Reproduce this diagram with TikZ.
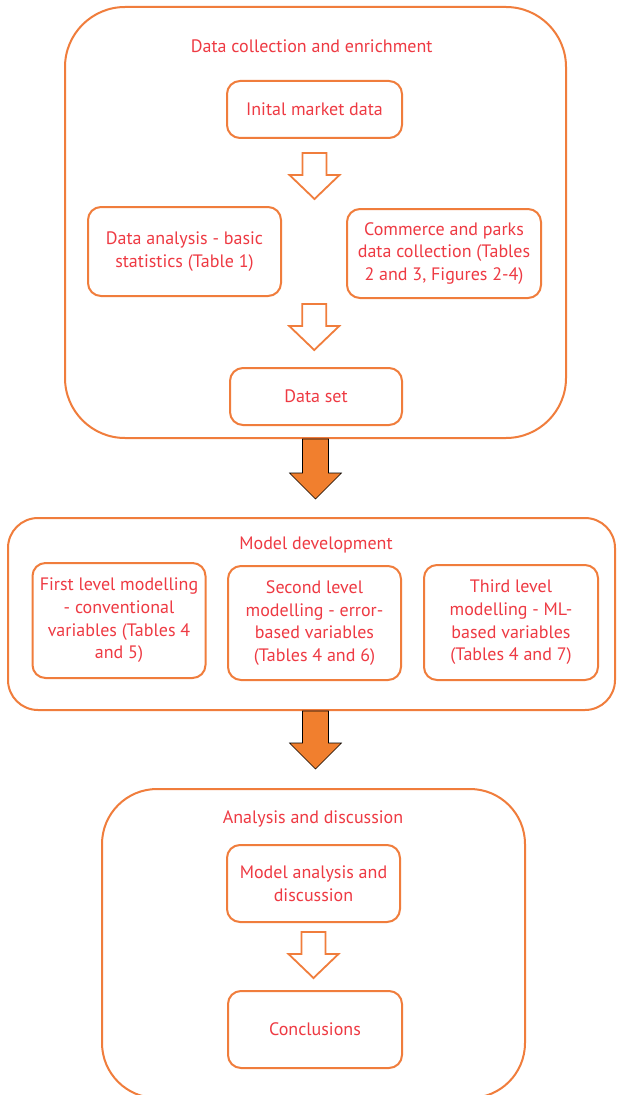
\documentclass[tikz,border=0pt]{standalone}
\usepackage{fontspec}
\setmainfont{PT Sans}
\usepackage{tikz}
\usetikzlibrary{calc}
\definecolor{korange}{HTML}{F07D3C}
\definecolor{kfill}{HTML}{F17F2E}
\definecolor{kred}{HTML}{EE3A43}
\newdimen\px \px=0.75pt
% block arrow: style, start, tip, shaft half width, head half width, head length
\newcommand{\blockarrow}[6]{%
  \draw[#1] ($(#2)+(-#4,0)$) -- ($(#2)+(#4,0)$) -- ($(#3)+(#4,-#6)$) -- ($(#3)+(#5,-#6)$)
    -- (#3) -- ($(#3)+(-#5,-#6)$) -- ($(#3)+(-#4,-#6)$) -- cycle;}
\tikzset{
  stage/.style={draw=korange, line width=2\px},
  stepbox/.style={draw=korange, line width=2\px, rounded corners=13\px, text=kred,
    align=center, font=\fontsize{13.5}{17}\selectfont, inner sep=0pt},
  stagetitle/.style={text=kred, font=\fontsize{13.5}{17}\selectfont, inner sep=0pt},
  hollowarr/.style={draw=korange, fill=white, line width=1.8\px},
  solidarr/.style={fill=kfill},
}
\begin{document}
\begin{tikzpicture}[x=0.75pt, y=-0.75pt]
\clip (0,0) rectangle (617,1095);
\fill[white] (0,0) rectangle (617,1095);
% stage 1
\node[stage, rounded corners=60\px, minimum width=501\px, minimum height=431\px]
  (collect) at (315.5,222.5) {};
\node[stagetitle] (title1) at (311.7,46) {Data collection and enrichment};
\node[stepbox, minimum width=175\px, minimum height=57\px] (init) at (314.5,109.5) {Inital market data};
\node[stepbox, minimum width=193\px, minimum height=89\px] (analysis) at (184.5,251.5)
  {Data analysis - basic\\statistics (Table 1)};
\node[stepbox, minimum width=194\px, minimum height=89\px] (commerce) at (444,253.5)
  {Commerce and parks\\data collection (Tables\\2 and 3, Figures 2-4)};
\node[stepbox, minimum width=172\px, minimum height=57\px] (dataset) at (316,396.5) {Data set};
% stage 2
\node[stage, rounded corners=30\px, minimum width=607\px, minimum height=192\px]
  (model) at (311.5,614) {};
\node[stagetitle] (title2) at (316,545) {Model development};
\node[stepbox, minimum width=173\px, minimum height=115\px] (level1) at (119,620.5)
  {First level modelling\\- conventional\\variables (Tables 4\\and 5)};
\node[stepbox, minimum width=173\px, minimum height=114\px] (level2) at (314.5,623)
  {Second level\\modelling - error-\\based variables\\(Tables 4 and 6)};
\node[stepbox, minimum width=174\px, minimum height=115\px] (level3) at (511,622.5)
  {Third level\\modelling - ML-\\based variables\\(Tables 4 and 7)};
% stage 3
\node[stage, rounded corners=55\px, minimum width=423\px, minimum height=309\px]
  (review) at (313.5,943.5) {};
\node[stagetitle] (title3) at (313,819) {Analysis and discussion};
\node[stepbox, minimum width=173\px, minimum height=77\px] (discuss) at (313.5,883.5)
  {Model analysis and\\discussion};
\node[stepbox, minimum width=174\px, minimum height=77\px] (concl) at (315,1029.5) {Conclusions};
% arrow ends
\coordinate (s1) at ($(init.south)+(0,14)$);
\coordinate (t1) at ($(analysis.north -| s1)+(0,-7)$);
\coordinate (s2) at ($(analysis.south)!0.5!(commerce.south)+(0,6)$);
\coordinate (t2) at ($(dataset.north -| s2)+(0,-17)$);
\coordinate (s3) at (collect.south);
\coordinate (t3) at ($(model.north -| s3)+(0,-18)$);
\coordinate (s4) at (model.south -| collect.south);
\coordinate (t4) at ($(review.north -| s4)+(0,-19)$);
\coordinate (s5) at ($(discuss.south)+(0,9)$);
\coordinate (t5) at ($(concl.north -| s5)+(0,-12)$);
\blockarrow{hollowarr}{s1}{t1}{12}{25}{24}
\blockarrow{hollowarr}{s2}{t2}{12}{25}{24}
\blockarrow{solidarr}{s3}{t3}{13}{26}{26}
\blockarrow{solidarr}{s4}{t4}{13}{26}{26}
\blockarrow{hollowarr}{s5}{t5}{12}{25}{24}
\end{tikzpicture}
\end{document}
